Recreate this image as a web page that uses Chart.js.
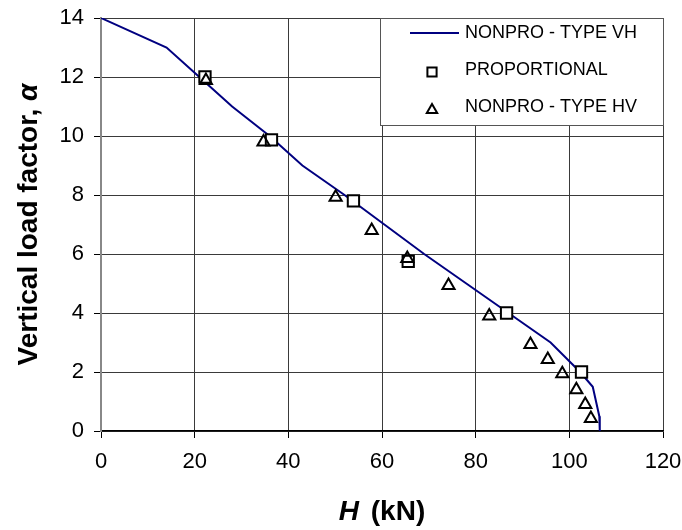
<!DOCTYPE html>
<html>
<head>
<meta charset="utf-8">
<script src="https://cdn.jsdelivr.net/npm/chart.js@4.4.0/dist/chart.umd.min.js"></script>
<style>
  body { margin: 0; background: #fff; }
</style>
</head>
<body>
<canvas id="canvas" width="682" height="530"></canvas>
<script>
const xTicks = [0, 20, 40, 60, 80, 100, 120];
const yTicks = [0, 2, 4, 6, 8, 10, 12, 14];

// NONPRO - TYPE VH (line)
const vhH = [0, 14, 21, 28, 36, 43, 52, 60.5, 69, 78, 87, 96, 102.3, 105, 106.4, 106.5];
const vhA = [14, 13, 12, 11, 10, 9, 8, 7, 6, 5, 4, 3, 2, 1.5, 0.5, 0];

// PROPORTIONAL (squares)
const propH = [22.2, 36.4, 53.9, 65.6, 86.6, 102.6];
const propA = [12.0, 9.87, 7.8, 5.75, 4.0, 2.0];

// NONPRO - TYPE HV (triangles)
const hvH = [22.4, 34.7, 50.1, 57.8, 65.4, 74.2, 82.9, 91.7, 95.4, 98.5, 101.5, 103.4, 104.6];
const hvA = [11.88, 9.8, 7.92, 6.8, 5.85, 4.93, 3.9, 2.93, 2.42, 1.94, 1.4, 0.9, 0.42];

const LABELS = ["NONPRO - TYPE VH", "PROPORTIONAL", "NONPRO - TYPE HV"];
const FONT = "'Liberation Sans', Arial, sans-serif";

function pts(xs, ys) {
    return xs.map(function (x, i) { return { x: x, y: ys[i] }; });
}

// legend box inside the plot, top right
const boxLegend = {
    id: 'boxLegend',
    afterDraw: function (chart) {
        const ctx = chart.ctx;
        const a = chart.chartArea;
        const w = 284, h = 108;
        const x0 = a.right + 1 - w, y0 = a.top;
        ctx.save();
        ctx.fillStyle = '#fff';
        ctx.fillRect(x0, y0, w, h);
        ctx.strokeStyle = '#555';
        ctx.lineWidth = 1;
        ctx.strokeRect(x0 + 0.5, y0 + 0.5, w - 1, h - 1);

        const rows = [y0 + 15, y0 + 52, y0 + 89];
        const mx = x0 + 52;
        // line sample
        ctx.strokeStyle = '#000080';
        ctx.lineWidth = 2;
        ctx.beginPath();
        ctx.moveTo(x0 + 30, rows[0]);
        ctx.lineTo(x0 + 79, rows[0]);
        ctx.stroke();
        // markers
        ctx.strokeStyle = '#000';
        ctx.fillStyle = '#fff';
        Chart.helpers.drawPoint(ctx, { pointStyle: 'rect', radius: 6.5, borderWidth: 1.5, rotation: 0 }, mx, rows[1] + 2);
        ctx.fillStyle = 'rgba(0,0,0,0)';
        Chart.helpers.drawPoint(ctx, { pointStyle: 'triangle', radius: 6, borderWidth: 1.5, rotation: 0 }, mx, rows[2] + 3);

        ctx.fillStyle = '#000';
        ctx.font = '18px ' + FONT;
        ctx.textBaseline = 'middle';
        ctx.textAlign = 'left';
        for (let i = 0; i < 3; i++) {
            ctx.fillText(LABELS[i], x0 + 85, rows[i]);
        }
        ctx.restore();
    }
};

// axis titles with mixed italic parts
const axisTitles = {
    id: 'axisTitles',
    afterDraw: function (chart) {
        const ctx = chart.ctx;
        const a = chart.chartArea;
        ctx.save();
        ctx.fillStyle = '#000';
        ctx.textBaseline = 'alphabetic';
        ctx.textAlign = 'left';

        // x title
        const fItalic = 'italic bold 28px ' + FONT;
        const fBold = 'bold 28px ' + FONT;
        ctx.font = fItalic;
        const wH = ctx.measureText('H').width;
        ctx.font = fBold;
        const wRest = ctx.measureText(' (kN)').width + 4;
        let sx = (a.left + a.right) / 2 - (wH + wRest) / 2;
        ctx.font = fItalic;
        ctx.fillText('H', sx, 520);
        ctx.font = fBold;
        ctx.fillText(' (kN)', sx + wH + 4, 520);

        // y title
        ctx.translate(37, (a.top + a.bottom) / 2);
        ctx.rotate(-Math.PI / 2);
        ctx.font = fBold;
        const wMain = ctx.measureText('Vertical load factor, ').width;
        ctx.font = fItalic;
        const wAlpha = ctx.measureText('α').width;
        sx = -(wMain + wAlpha) / 2;
        ctx.font = fBold;
        ctx.fillText('Vertical load factor, ', sx, 0);
        ctx.font = fItalic;
        ctx.fillText('α', sx + wMain, 0);
        ctx.restore();
    }
};

const ctx = document.getElementById('canvas').getContext('2d');

new Chart(ctx, {
    type: 'scatter',
    data: {
        datasets: [
            {
                label: LABELS[0],
                data: pts(vhH, vhA),
                showLine: true,
                borderColor: '#000080',
                borderWidth: 2,
                pointRadius: 0,
                tension: 0,
                order: 3
            },
            {
                label: LABELS[1],
                data: pts(propH, propA),
                pointStyle: 'rect',
                pointRadius: 8,
                pointBorderWidth: 2,
                pointBorderColor: '#000',
                pointBackgroundColor: '#fff',
                order: 2
            },
            {
                label: LABELS[2],
                data: pts(hvH, hvA),
                pointStyle: 'triangle',
                pointRadius: 7,
                pointBorderWidth: 2,
                pointBorderColor: '#000',
                pointBackgroundColor: 'rgba(0,0,0,0)',
                order: 1
            }
        ]
    },
    options: {
        responsive: false,
        animation: false,
        devicePixelRatio: 1,
        layout: { padding: { top: 18, right: 19, left: 0, bottom: 0 } },
        plugins: {
            legend: { display: false },
            tooltip: { enabled: false }
        },
        scales: {
            x: {
                type: 'linear',
                min: 0,
                max: 120,
                afterBuildTicks: function (s) { s.ticks = xTicks.map(function (v) { return { value: v }; }); },
                afterFit: function (s) { s.height = 99; s.paddingLeft = 0; s.paddingRight = 0; },
                ticks: { color: '#000', font: { size: 22, family: FONT }, padding: 11, maxRotation: 0 },
                grid: { color: '#3a3a3a', lineWidth: 1, tickLength: 7, tickColor: '#000' },
                border: { color: '#000', width: 1.5 }
            },
            y: {
                type: 'linear',
                min: 0,
                max: 14,
                afterBuildTicks: function (s) { s.ticks = yTicks.map(function (v) { return { value: v }; }); },
                afterFit: function (s) { s.width = 101; s.paddingTop = 0; s.paddingBottom = 0; },
                ticks: { color: '#000', font: { size: 22, family: FONT }, padding: 10 },
                grid: { color: '#3a3a3a', lineWidth: 1, tickLength: 7, tickColor: '#000' },
                border: { color: '#888', width: 2 }
            }
        }
    },
    plugins: [boxLegend, axisTitles]
});
</script>
</body>
</html>
